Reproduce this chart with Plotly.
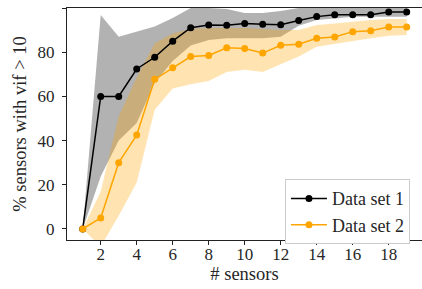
import plotly.graph_objects as go

sensors = list(range(1, 20))
set1_mean = [0, 60, 60, 72.4, 77.7, 85, 91.1, 92.3, 92.2, 93, 92.7, 92.4, 94.3, 96.1, 96.9, 96.9, 96.9, 98.2, 98.2]
set1_upper = [0, 96.8, 87, 89.3, 91.6, 95.5, 100, 100, 99.5, 97.7, 97.7, 98.6, 100, 100, 100, 100, 100, 100, 100]
set1_lower = [0, 23.7, 40, 48, 66, 76, 83, 85.5, 86.3, 86.3, 86.3, 87, 92, 94.6, 95.3, 96, 96, 96, 96]
set2_mean = [0, 5, 30, 42.5, 67.7, 73, 78, 78.5, 82, 81.7, 79.6, 83.1, 83.6, 86.3, 86.9, 89.3, 89.7, 91.4, 91.4]
set2_upper = [0, 17, 51, 68.5, 84, 88.5, 90.5, 91, 91, 91, 90.5, 90, 90, 92.3, 93, 93.8, 94.6, 95, 95]
set2_lower = [0, -8, 6, 21, 54, 63.6, 65.5, 67, 71, 72, 71, 74.5, 78, 82.5, 84, 85, 86.3, 87.4, 87.8]
series_names = ["Data set 1", "Data set 2"]
x_ticks = [2, 4, 6, 8, 10, 12, 14, 16, 18]
y_ticks = [0, 20, 40, 60, 80, 100]

FONT = "Liberation Serif"
TXT = "#262626"
fig = go.Figure()

def band(lower, upper, color):
    return go.Scatter(x=sensors + sensors[::-1], y=upper + lower[::-1],
                      fill="toself", fillcolor=color, line=dict(width=0),
                      mode="lines", hoverinfo="skip", showlegend=False)

fig.add_trace(band(set1_lower, set1_upper, "rgba(0,0,0,0.3)"))
fig.add_trace(band(set2_lower, set2_upper, "rgba(255,165,0,0.3)"))

fig.add_trace(go.Scatter(x=sensors, y=set1_mean, mode="lines+markers", name=series_names[0],
                         line=dict(color="black", width=1.5),
                         marker=dict(color="black", size=7)))
fig.add_trace(go.Scatter(x=sensors, y=set2_mean, mode="lines+markers", name=series_names[1],
                         line=dict(color="#FFA500", width=1.5),
                         marker=dict(color="#FFA500", size=7)))

fig.update_layout(
    width=422, height=289,
    margin=dict(l=67, r=0, t=8, b=49),
    paper_bgcolor="white", plot_bgcolor="white",
    font=dict(family=FONT, size=17, color=TXT),
    legend=dict(x=0.614, y=0.262, xanchor="left", yanchor="top",
                bordercolor="#cccccc", borderwidth=1, bgcolor="white",
                font=dict(family=FONT, size=18, color=TXT), tracegroupgap=0,
                itemwidth=36),
)
fig.update_xaxes(range=[0.128, 19.85], tickvals=x_ticks, showgrid=False, zeroline=False,
                 showline=True, linecolor="#222", linewidth=1, mirror=True,
                 ticks="outside", ticklen=4, tickcolor="#222", automargin=False,
                 tickfont=dict(family=FONT, size=17, color=TXT), ticklabelstandoff=-5,
                 title=dict(text="# sensors", standoff=2, font=dict(family=FONT, size=18.5, color=TXT)))
fig.update_yaxes(range=[-5, 100], tickvals=y_ticks, showgrid=False, zeroline=False,
                 showline=True, linecolor="#222", linewidth=1, automargin=False,
                 ticks="outside", ticklen=4, tickcolor="#222",
                 tickfont=dict(family=FONT, size=17, color=TXT), ticklabelstandoff=4,
                 title=dict(text="% sensors with vif > 10", standoff=6,
                            font=dict(family=FONT, size=18.5, color=TXT)))

fig.write_html("out.html", post_script="document.body.style.margin='0';",
               config={"displayModeBar": False})
